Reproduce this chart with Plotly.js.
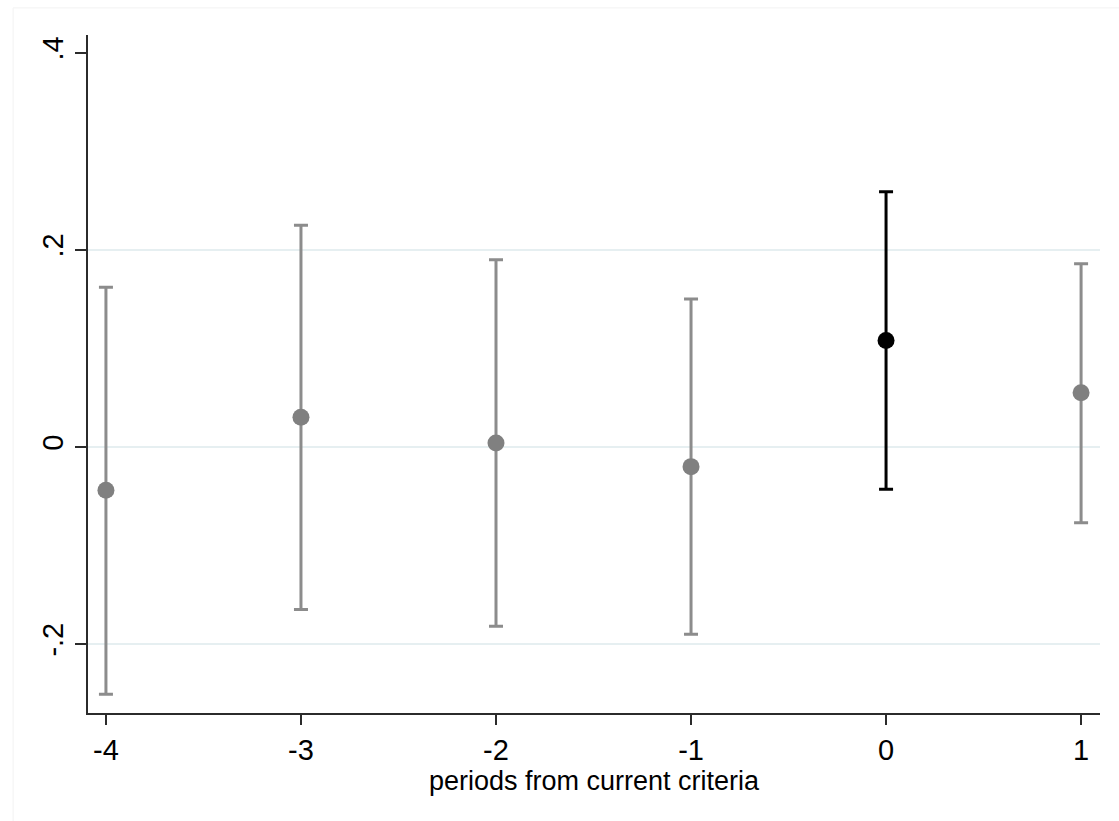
<!DOCTYPE html>
<html>
<head>
<meta charset="utf-8">
<script src="https://cdn.plot.ly/plotly-3.0.1.min.js"></script>
<style>html,body{margin:0;padding:0;background:#fff;}#chart{width:1119px;height:821px;}</style>
</head>
<body>
<div id="chart"></div>
<script>
const periods   = [-4, -3, -2, -1, 0, 1];
const estimates = [-0.044, 0.030, 0.004, -0.020, 0.108, 0.055];
const ciUpper   = [0.162, 0.225, 0.190, 0.150, 0.259, 0.186];
const ciLower   = [-0.251, -0.165, -0.182, -0.190, -0.043, -0.077];
const highlightPeriod = 0;
const xTickVals = [-4, -3, -2, -1, 0, 1];
const xTickText = ['-4', '-3', '-2', '-1', '0', '1'];
const yTickVals = [-0.2, 0, 0.2, 0.4];
const yTickText = ['-.2', '0', '.2', '.4'];
const yGridVals = [-0.2, 0, 0.2];

function subset(flag) {
  const idx = periods.map((p, i) => i).filter(i => (periods[i] === highlightPeriod) === flag);
  return {
    x: idx.map(i => periods[i]),
    y: idx.map(i => estimates[i]),
    up: idx.map(i => ciUpper[i] - estimates[i]),
    dn: idx.map(i => estimates[i] - ciLower[i])
  };
}
const g = subset(false), b = subset(true);

const traces = [
  {x: g.x, y: g.y, type: 'scatter', mode: 'markers',
   marker: {color: '#808080', size: 17},
   error_y: {type: 'data', symmetric: false, array: g.up, arrayminus: g.dn,
             color: '#8c8c8c', thickness: 3, width: 7},
   showlegend: false, hoverinfo: 'x+y'},
  {x: b.x, y: b.y, type: 'scatter', mode: 'markers',
   marker: {color: '#000000', size: 17},
   error_y: {type: 'data', symmetric: false, array: b.up, arrayminus: b.dn,
             color: '#000000', thickness: 3, width: 7},
   showlegend: false, hoverinfo: 'x+y'},
  {x: [periods[0]], y: [estimates[0]], yaxis: 'y2', type: 'scatter', mode: 'markers',
   marker: {opacity: 0}, showlegend: false, hoverinfo: 'skip'}
];

const font = {family: 'Liberation Sans, Arial, sans-serif', color: '#000', size: 27};
const layout = {
  width: 1119, height: 821,
  margin: {l: 88, r: 19, t: 35, b: 108},
  paper_bgcolor: '#ffffff', plot_bgcolor: 'rgba(0,0,0,0)',
  font: font,
  xaxis: {
    range: [-4.092, 1.097], tickvals: xTickVals, ticktext: xTickText,
    showgrid: false, zeroline: false, showline: true, linecolor: '#2b2b2b', linewidth: 2,
    ticks: 'outside', ticklen: 10, tickwidth: 2, tickcolor: '#2b2b2b',
    tickfont: {size: 29},
    title: {text: 'periods from current criteria', font: {size: 27}, standoff: 0}
  },
  yaxis: {
    range: [-0.270, 0.418], tickvals: yTickVals, ticktext: yTickText, tickangle: -90,
    showgrid: false, zeroline: false, showline: true, linecolor: '#2b2b2b', linewidth: 2,
    ticks: 'outside', ticklen: 11, tickwidth: 2, tickcolor: '#2b2b2b',
    tickfont: {size: 29}, layer: 'above traces'
  },
  yaxis2: {
    overlaying: 'y', matches: 'y', range: [-0.270, 0.418],
    tickvals: yGridVals, showticklabels: false, ticks: '',
    showgrid: true, gridcolor: '#e6eff1', gridwidth: 1.5, zeroline: false, showline: false,
    layer: 'below traces'
  },
  shapes: [
    {type: 'rect', xref: 'paper', yref: 'paper', x0: -0.074, x1: 1.06, y0: -0.165, y1: 1.04,
     line: {color: '#f2f2f2', width: 1}, fillcolor: 'rgba(0,0,0,0)', layer: 'below'}
  ]
};

Plotly.newPlot('chart', traces, layout, {displayModeBar: false, staticPlot: true});
</script>
</body>
</html>
